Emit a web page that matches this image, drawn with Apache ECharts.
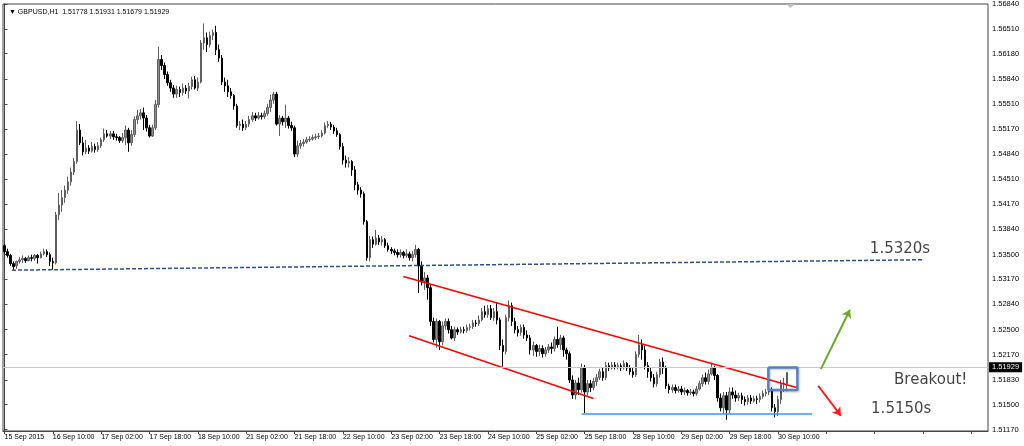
<!DOCTYPE html>
<html>
<head>
<meta charset="utf-8">
<script src="https://cdn.jsdelivr.net/npm/echarts@6/dist/echarts.min.js"></script>
<style>
html,body{margin:0;padding:0;background:#fff;}
#chart{width:1024px;height:446px;}
</style>
</head>
<body>
<div id="chart"></div>
<script>
// GBPUSD H1 candles: [open, close, low, high]
const candles = [
[1.5362,1.5354,1.5351,1.5364],[1.5354,1.5349,1.5346,1.5358],[1.5349,1.5338,1.5335,1.5351],[1.5338,1.5334,1.5330,1.5341],
[1.5335,1.5341,1.5331,1.5342],[1.5341,1.5343,1.5338,1.5347],[1.5343,1.5345,1.5339,1.5349],[1.5345,1.5342,1.5339,1.5347],
[1.5342,1.5346,1.5341,1.5349],[1.5346,1.5345,1.5341,1.5350],[1.5345,1.5349,1.5342,1.5351],[1.5349,1.5346,1.5338,1.5351],
[1.5346,1.5351,1.5345,1.5354],[1.5351,1.5354,1.5349,1.5358],[1.5354,1.5350,1.5347,1.5357],[1.5350,1.5341,1.5335,1.5353],
[1.5341,1.5339,1.5330,1.5346],[1.5339,1.5403,1.5337,1.5407],[1.5403,1.5416,1.5396,1.5432],[1.5416,1.5426,1.5407,1.5436],
[1.5426,1.5436,1.5419,1.5442],[1.5436,1.5447,1.5431,1.5454],[1.5447,1.5460,1.5442,1.5466],[1.5460,1.5474,1.5456,1.5479],
[1.5474,1.5516,1.5471,1.5528],[1.5516,1.5499,1.5496,1.5524],[1.5499,1.5487,1.5482,1.5507],[1.5487,1.5492,1.5484,1.5503],
[1.5492,1.5488,1.5484,1.5496],[1.5488,1.5494,1.5486,1.5500],[1.5494,1.5490,1.5486,1.5498],[1.5490,1.5495,1.5487,1.5500],
[1.5495,1.5503,1.5492,1.5506],[1.5503,1.5511,1.5500,1.5518],[1.5511,1.5508,1.5506,1.5516],[1.5508,1.5511,1.5504,1.5515],
[1.5511,1.5507,1.5503,1.5515],[1.5507,1.5506,1.5502,1.5511],[1.5506,1.5502,1.5499,1.5508],[1.5502,1.5506,1.5499,1.5512],
[1.5506,1.5516,1.5496,1.5522],[1.5516,1.5499,1.5487,1.5519],[1.5499,1.5510,1.5495,1.5516],[1.5510,1.5530,1.5507,1.5534],
[1.5530,1.5535,1.5524,1.5543],[1.5535,1.5539,1.5530,1.5544],[1.5539,1.5532,1.5516,1.5546],[1.5532,1.5519,1.5514,1.5536],
[1.5519,1.5508,1.5506,1.5523],[1.5508,1.5519,1.5507,1.5523],[1.5519,1.5550,1.5516,1.5556],[1.5550,1.5610,1.5546,1.5627],
[1.5610,1.5602,1.5596,1.5616],[1.5602,1.5590,1.5584,1.5606],[1.5590,1.5579,1.5575,1.5594],[1.5579,1.5572,1.5567,1.5583],
[1.5572,1.5564,1.5559,1.5576],[1.5564,1.5570,1.5559,1.5575],[1.5570,1.5566,1.5560,1.5574],[1.5566,1.5572,1.5562,1.5578],
[1.5572,1.5568,1.5564,1.5576],[1.5568,1.5574,1.5558,1.5579],[1.5574,1.5583,1.5570,1.5587],[1.5583,1.5572,1.5570,1.5588],
[1.5572,1.5580,1.5568,1.5586],[1.5580,1.5632,1.5578,1.5636],[1.5632,1.5639,1.5623,1.5658],[1.5639,1.5630,1.5620,1.5646],
[1.5630,1.5642,1.5626,1.5647],[1.5642,1.5646,1.5636,1.5650],[1.5646,1.5623,1.5616,1.5655],[1.5623,1.5612,1.5607,1.5630],
[1.5612,1.5580,1.5576,1.5616],[1.5580,1.5575,1.5567,1.5586],[1.5575,1.5567,1.5560,1.5583],[1.5567,1.5562,1.5558,1.5572],
[1.5562,1.5548,1.5543,1.5564],[1.5548,1.5522,1.5519,1.5551],[1.5522,1.5524,1.5516,1.5528],[1.5524,1.5519,1.5515,1.5530],
[1.5519,1.5524,1.5516,1.5528],[1.5524,1.5530,1.5520,1.5535],[1.5530,1.5535,1.5527,1.5540],[1.5535,1.5532,1.5528,1.5539],
[1.5532,1.5535,1.5530,1.5540],[1.5535,1.5534,1.5530,1.5539],[1.5534,1.5538,1.5531,1.5542],[1.5538,1.5546,1.5535,1.5551],
[1.5546,1.5556,1.5540,1.5563],[1.5556,1.5564,1.5551,1.5567],[1.5564,1.5524,1.5522,1.5567],[1.5524,1.5532,1.5508,1.5536],
[1.5532,1.5527,1.5522,1.5535],[1.5527,1.5532,1.5519,1.5550],[1.5532,1.5522,1.5518,1.5535],[1.5522,1.5519,1.5515,1.5527],
[1.5519,1.5484,1.5480,1.5522],[1.5484,1.5495,1.5480,1.5502],[1.5495,1.5498,1.5491,1.5503],[1.5498,1.5500,1.5494,1.5504],
[1.5500,1.5503,1.5498,1.5507],[1.5503,1.5504,1.5500,1.5508],[1.5504,1.5506,1.5502,1.5510],[1.5506,1.5507,1.5503,1.5511],
[1.5507,1.5508,1.5504,1.5512],[1.5508,1.5512,1.5506,1.5516],[1.5512,1.5522,1.5510,1.5526],[1.5522,1.5524,1.5519,1.5528],
[1.5524,1.5520,1.5516,1.5527],[1.5520,1.5515,1.5511,1.5523],[1.5515,1.5510,1.5507,1.5519],[1.5510,1.5494,1.5490,1.5512],
[1.5494,1.5476,1.5470,1.5499],[1.5476,1.5472,1.5466,1.5482],[1.5472,1.5474,1.5466,1.5480],[1.5474,1.5463,1.5455,1.5476],
[1.5463,1.5443,1.5436,1.5468],[1.5443,1.5436,1.5430,1.5447],[1.5436,1.5431,1.5426,1.5440],[1.5431,1.5394,1.5390,1.5434],
[1.5394,1.5346,1.5342,1.5396],[1.5346,1.5370,1.5341,1.5375],[1.5370,1.5364,1.5359,1.5374],[1.5364,1.5372,1.5362,1.5383],
[1.5372,1.5367,1.5363,1.5376],[1.5367,1.5370,1.5362,1.5375],[1.5370,1.5362,1.5359,1.5372],[1.5362,1.5357,1.5354,1.5366],
[1.5357,1.5355,1.5351,1.5360],[1.5355,1.5353,1.5349,1.5358],[1.5353,1.5350,1.5346,1.5357],[1.5350,1.5353,1.5346,1.5357],
[1.5353,1.5349,1.5345,1.5355],[1.5349,1.5351,1.5346,1.5357],[1.5351,1.5346,1.5342,1.5354],[1.5346,1.5350,1.5341,1.5355],
[1.5350,1.5357,1.5346,1.5363],[1.5357,1.5335,1.5299,1.5359],[1.5335,1.5314,1.5309,1.5341],[1.5314,1.5319,1.5303,1.5327],
[1.5319,1.5306,1.5290,1.5323],[1.5306,1.5261,1.5255,1.5310],[1.5261,1.5237,1.5233,1.5266],[1.5237,1.5261,1.5226,1.5265],
[1.5261,1.5234,1.5223,1.5263],[1.5234,1.5255,1.5229,1.5261],[1.5255,1.5261,1.5250,1.5265],[1.5261,1.5250,1.5245,1.5265],
[1.5250,1.5239,1.5237,1.5255],[1.5239,1.5250,1.5235,1.5254],[1.5250,1.5247,1.5243,1.5253],[1.5247,1.5250,1.5245,1.5254],
[1.5250,1.5249,1.5245,1.5254],[1.5249,1.5253,1.5246,1.5257],[1.5253,1.5254,1.5249,1.5258],[1.5254,1.5259,1.5251,1.5263],
[1.5259,1.5258,1.5254,1.5263],[1.5258,1.5263,1.5255,1.5269],[1.5263,1.5274,1.5261,1.5279],[1.5274,1.5270,1.5266,1.5282],
[1.5270,1.5278,1.5266,1.5283],[1.5278,1.5266,1.5263,1.5283],[1.5266,1.5274,1.5262,1.5279],[1.5274,1.5263,1.5257,1.5287],
[1.5263,1.5229,1.5223,1.5266],[1.5229,1.5221,1.5201,1.5237],[1.5221,1.5266,1.5217,1.5270],[1.5266,1.5282,1.5261,1.5289],
[1.5282,1.5261,1.5255,1.5286],[1.5261,1.5250,1.5245,1.5266],[1.5250,1.5246,1.5241,1.5255],[1.5246,1.5253,1.5242,1.5257],
[1.5253,1.5243,1.5238,1.5257],[1.5243,1.5239,1.5235,1.5249],[1.5239,1.5223,1.5217,1.5243],[1.5223,1.5229,1.5215,1.5234],
[1.5229,1.5221,1.5214,1.5231],[1.5221,1.5225,1.5215,1.5230],[1.5225,1.5218,1.5213,1.5229],[1.5218,1.5223,1.5214,1.5227],
[1.5223,1.5227,1.5219,1.5231],[1.5227,1.5225,1.5218,1.5233],[1.5225,1.5237,1.5221,1.5241],[1.5237,1.5230,1.5226,1.5254],
[1.5230,1.5239,1.5223,1.5243],[1.5239,1.5223,1.5214,1.5242],[1.5223,1.5218,1.5210,1.5226],[1.5218,1.5183,1.5179,1.5221],
[1.5183,1.5163,1.5158,1.5189],[1.5163,1.5179,1.5157,1.5183],[1.5179,1.5170,1.5163,1.5186],[1.5170,1.5199,1.5166,1.5205],
[1.5199,1.5167,1.5139,1.5203],[1.5167,1.5178,1.5162,1.5183],[1.5178,1.5173,1.5167,1.5183],[1.5173,1.5181,1.5169,1.5186],
[1.5181,1.5186,1.5175,1.5191],[1.5186,1.5194,1.5183,1.5198],[1.5194,1.5186,1.5182,1.5199],[1.5186,1.5202,1.5183,1.5207],
[1.5202,1.5199,1.5195,1.5206],[1.5199,1.5203,1.5197,1.5207],[1.5203,1.5201,1.5197,1.5207],[1.5201,1.5202,1.5197,1.5206],
[1.5202,1.5199,1.5195,1.5205],[1.5199,1.5205,1.5197,1.5209],[1.5205,1.5199,1.5195,1.5207],[1.5199,1.5194,1.5190,1.5203],
[1.5194,1.5190,1.5186,1.5199],[1.5190,1.5217,1.5187,1.5221],[1.5217,1.5230,1.5213,1.5243],[1.5230,1.5223,1.5210,1.5237],
[1.5223,1.5202,1.5197,1.5229],[1.5202,1.5194,1.5186,1.5207],[1.5194,1.5186,1.5181,1.5199],[1.5186,1.5178,1.5173,1.5191],
[1.5178,1.5190,1.5174,1.5194],[1.5190,1.5207,1.5186,1.5211],[1.5207,1.5199,1.5191,1.5213],[1.5199,1.5175,1.5171,1.5202],
[1.5175,1.5170,1.5165,1.5178],[1.5170,1.5173,1.5166,1.5177],[1.5173,1.5169,1.5165,1.5177],[1.5169,1.5171,1.5166,1.5175],
[1.5171,1.5167,1.5163,1.5175],[1.5167,1.5169,1.5163,1.5173],[1.5169,1.5166,1.5162,1.5171],[1.5166,1.5167,1.5163,1.5171],
[1.5167,1.5165,1.5161,1.5170],[1.5165,1.5171,1.5162,1.5175],[1.5171,1.5178,1.5169,1.5182],[1.5178,1.5186,1.5174,1.5190],
[1.5186,1.5181,1.5177,1.5193],[1.5181,1.5191,1.5177,1.5197],[1.5191,1.5199,1.5189,1.5206],[1.5199,1.5189,1.5183,1.5202],
[1.5189,1.5159,1.5154,1.5191],[1.5159,1.5146,1.5141,1.5165],[1.5146,1.5162,1.5138,1.5167],[1.5162,1.5143,1.5130,1.5167],
[1.5143,1.5167,1.5138,1.5173],[1.5167,1.5163,1.5158,1.5173],[1.5163,1.5159,1.5154,1.5169],[1.5159,1.5162,1.5155,1.5166],
[1.5162,1.5157,1.5151,1.5166],[1.5157,1.5154,1.5149,1.5161],[1.5154,1.5159,1.5150,1.5163],[1.5159,1.5155,1.5151,1.5163],
[1.5155,1.5158,1.5153,1.5162],[1.5158,1.5157,1.5151,1.5162],[1.5157,1.5161,1.5153,1.5165],[1.5161,1.5165,1.5158,1.5169],
[1.5165,1.5167,1.5161,1.5171],[1.5167,1.5170,1.5163,1.5174],[1.5170,1.5146,1.5141,1.5173],[1.5146,1.5141,1.5133,1.5151],
[1.5141,1.5157,1.5135,1.5162],[1.5157,1.5177,1.5151,1.5183],[1.5177,1.5178,1.5167,1.5186],[1.51778,1.51929,1.51679,1.51931]
];
const totalSlots = 326;           // bar slots across the chart (empty shift area on the right)
const lastPrice = 1.51929;
const headerText = '\u25BC GBPUSD,H1  1.51778 1.51931 1.51679 1.51929';
const yTickValues = [1.5117,1.5150,1.5183,1.5217,1.5250,1.5284,1.5317,1.5350,1.5384,1.5417,1.5451,1.5484,1.5517,1.5551,1.5584,1.5618,1.5651,1.5684];
const xTickLabels = ['15 Sep 2015','16 Sep 10:00','17 Sep 02:00','17 Sep 18:00','18 Sep 10:00','21 Sep 02:00','21 Sep 18:00','22 Sep 10:00','23 Sep 02:00','23 Sep 18:00','24 Sep 10:00','25 Sep 02:00','25 Sep 18:00','28 Sep 10:00','29 Sep 02:00','29 Sep 18:00','30 Sep 10:00'];
const xTickEvery = 16;

// Drawn annotations in data units [bar index, price]
const levelLine = [[2.5,1.53293],[303.7,1.53432]];
const channelUpper = [[132.0,1.53209],[262.7,1.51722]];
const channelLower = [[133.9,1.52419],[194.9,1.51582]];
const supportLine = [[191.0,1.51376],[267.3,1.51376]];
const breakoutBox = [[252.8,1.51997],[262.4,1.51997],[262.4,1.51696],[252.8,1.51696],[252.8,1.51997]];
const upArrow = [[270.2,1.51975],[279.8,1.52766]];
const downArrow = [[269.3,1.51753],[276.8,1.51353]];
const notes = [
  {name:'1.5320s', value:[286.4,1.5357]},
  {name:'Breakout!', value:[294.4,1.51834]},
  {name:'1.5150s', value:[286.8,1.51447]}
];

const categories = Array.from({length: totalSlots}, (_, i) => String(i));
const FONT = 'Liberation Sans';

const chart = echarts.init(document.getElementById('chart'), null, {renderer: 'canvas'});
chart.setOption({
  animation: false,
  backgroundColor: '#ffffff',
  title: {
    text: headerText, left: 4, top: 4,
    textStyle: {fontFamily: FONT, fontSize: 7, fontWeight: 'normal', color: '#000'}
  },
  grid: {left: 3, right: 36, top: 4, bottom: 15, show: true, borderColor: '#444', borderWidth: 1, backgroundColor: 'transparent'},
  xAxis: [
    {
      type: 'category', data: categories, boundaryGap: true, position: 'bottom',
      axisLine: {show: true, lineStyle: {color: '#444', width: 1}},
      axisTick: {show: true, interval: xTickEvery - 1, alignWithLabel: true, length: 3, lineStyle: {color: '#444'}},
      axisLabel: {
        interval: xTickEvery - 1, align: 'left', margin: 3, fontFamily: FONT, fontSize: 7, color: '#000',
        formatter: (v, idx) => {
          const k = idx / xTickEvery;
          return (idx % xTickEvery === 0 && k < xTickLabels.length) ? xTickLabels[k] : '';
        }
      },
      splitLine: {show: false}
    },
    {type: 'value', min: -0.5, max: totalSlots - 0.5, show: false}
  ],
  yAxis: {
    type: 'value', position: 'right', min: 1.5115, max: 1.5684, scale: true,
    axisLine: {show: true, lineStyle: {color: '#444'}},
    axisTick: {show: true, inside: false, length: 3, customValues: yTickValues, lineStyle: {color: '#444'}},
    axisLabel: {customValues: yTickValues, margin: 4, fontFamily: FONT, fontSize: 7.5, color: '#000', formatter: v => v.toFixed(5)},
    splitLine: {show: false}
  },
  series: [
    {
      type: 'candlestick', xAxisIndex: 0, yAxisIndex: 0, data: candles, barWidth: 2,
      itemStyle: {color: '#8e8e8e', color0: '#000000', borderColor: '#5e5e5e', borderColor0: '#000000', borderWidth: 1},
      markLine: {
        silent: true, symbol: ['none','none'],
        lineStyle: {color: '#c8c8c8', type: 'solid', width: 1},
        label: {show: true, position: 'end', distance: 1, formatter: lastPrice.toFixed(5),
                backgroundColor: '#000', color: '#fff', padding: [1,3,1,3], fontFamily: FONT, fontSize: 7.5},
        data: [{yAxis: lastPrice}]
      },
      z: 3
    },
    {type: 'line', xAxisIndex: 1, data: levelLine, symbol: 'none', lineStyle: {color: '#2d4f8e', width: 1.5, type: [4,2]}, z: 4},
    {type: 'line', xAxisIndex: 1, data: channelUpper, symbol: 'none', lineStyle: {color: '#ff0000', width: 1.6}, z: 4},
    {type: 'line', xAxisIndex: 1, data: channelLower, symbol: 'none', lineStyle: {color: '#ff0000', width: 1.6}, z: 4},
    {type: 'line', xAxisIndex: 1, data: supportLine, symbol: 'none', lineStyle: {color: '#2f9af2', width: 1.6}, z: 4},
    {type: 'line', xAxisIndex: 1, data: breakoutBox, symbol: 'none',
     lineStyle: {color: '#5681c4', width: 2.5, shadowColor: 'rgba(0,0,0,0.25)', shadowBlur: 2, shadowOffsetX: 1, shadowOffsetY: 1}, z: 5},
    {type: 'line', xAxisIndex: 1, data: upArrow, symbol: 'none', lineStyle: {width: 0, opacity: 0},
     markLine: {silent: true, symbol: ['none','arrow'], symbolSize: 8, label: {show: false},
       lineStyle: {color: '#6aa82a', width: 2, type: 'solid'},
       data: [[{coord: upArrow[0]}, {coord: upArrow[1]}]]}, z: 5},
    {type: 'line', xAxisIndex: 1, data: downArrow, symbol: 'none', lineStyle: {width: 0, opacity: 0},
     markLine: {silent: true, symbol: ['none','arrow'], symbolSize: 8, label: {show: false},
       lineStyle: {color: '#ff1a1a', width: 2, type: 'solid'},
       data: [[{coord: downArrow[0]}, {coord: downArrow[1]}]]}, z: 5},
    {type: 'scatter', xAxisIndex: 1, data: notes, symbolSize: 0, silent: true,
     label: {show: true, position: 'right', distance: 0, formatter: p => p.name,
             fontFamily: 'DejaVu Sans', fontSize: 15, color: '#111'}, z: 6}
  ],
  graphic: [
    {type: 'polygon', shape: {points: [[786,4],[795,4],[790.5,8]]}, style: {fill: '#c0c0c0'}, silent: true}
  ]
});
</script>
</body>
</html>
